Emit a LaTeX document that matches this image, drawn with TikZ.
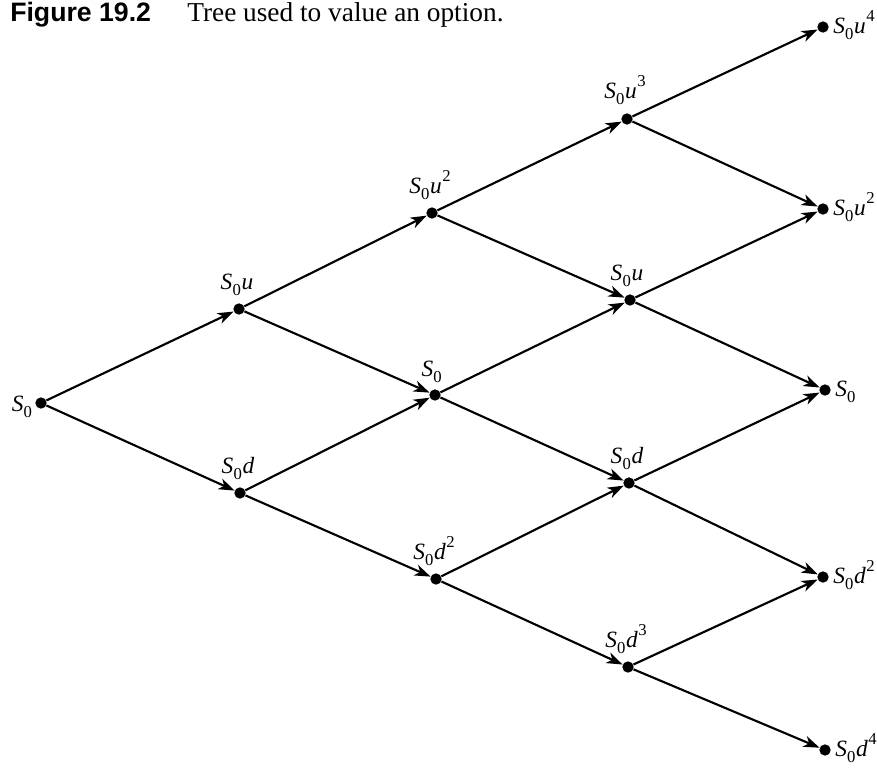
\documentclass[tikz,border=0pt]{standalone}
\usepackage{fontspec}
\setmainfont{Liberation Serif}
\newfontfamily\titlesf{Liberation Sans}
\usetikzlibrary{arrows.meta,calc}
\newcommand{\lbl}[2]{\textit{S}\kern0.01em\raisebox{-0.26em}{\fontsize{12.5}{12}\selectfont 0}\kern0.03em\textit{#1}\ifx\relax#2\relax\else\kern0.02em\raisebox{0.48em}{\fontsize{12.5}{12}\selectfont #2}\fi}
\begin{document}
\begin{tikzpicture}[x=0.75pt,y=-0.75pt,
  dot/.style={circle,fill=black,inner sep=0pt,minimum size=8.5pt},
  edge/.style={line width=1.6pt,-{Stealth[length=12pt,width=8.5pt,inset=3.5pt]}},
  lab/.style={inner sep=0pt,font=\fontsize{17.5}{20}\selectfont}]
\useasboundingbox (0,0) rectangle (877,772);
% title
\node[anchor=base west,inner sep=0pt,font=\titlesf\bfseries\fontsize{20}{24}\selectfont] (t1) at (10,21) {Figure 19.2};
\node[anchor=base west,inner sep=0pt,font=\fontsize{20.5}{24}\selectfont] (t2) at (187,21) {Tree used to value an option.};
% nodes
\node[dot] (r) at (41,403) {};
\node[dot] (a1) at (239,309) {};
\node[dot] (a2) at (240,493) {};
\node[dot] (b1) at (432,213) {};
\node[dot] (b2) at (435,395) {};
\node[dot] (b3) at (436,579) {};
\node[dot] (c1) at (627,119) {};
\node[dot] (c2) at (630,300) {};
\node[dot] (c3) at (629,483) {};
\node[dot] (c4) at (628,667) {};
\node[dot] (e1) at (823,27) {};
\node[dot] (e2) at (823,209) {};
\node[dot] (e3) at (825,390) {};
\node[dot] (e4) at (823,577) {};
\node[dot] (e5) at (825,750) {};
% labels
\node[lab,anchor=base east] (lr) at ($(r)+(-8,8)$) {\lbl{}{}};
\node[lab,anchor=base] (la1) at ($(a1)+(-2,-20)$) {\lbl{u}{}};
\node[lab,anchor=base] (la2) at ($(a2)+(-2,-20)$) {\lbl{d}{}};
\node[lab,anchor=base] (lb1) at ($(b1)+(-2,-20)$) {\lbl{u}{2}};
\node[lab,anchor=base] (lb2) at ($(b2)+(-3,-19)$) {\lbl{}{}};
\node[lab,anchor=base] (lb3) at ($(b3)+(-2,-20)$) {\lbl{d}{2}};
\node[lab,anchor=base] (lc1) at ($(c1)+(-2,-21)$) {\lbl{u}{3}};
\node[lab,anchor=base] (lc2) at ($(c2)+(-3,-20)$) {\lbl{u}{}};
\node[lab,anchor=base] (lc3) at ($(c3)+(-2,-20)$) {\lbl{d}{}};
\node[lab,anchor=base] (lc4) at ($(c4)+(-2,-20)$) {\lbl{d}{3}};
\node[lab,anchor=base west] (le1) at ($(e1)+(10,6)$) {\lbl{u}{4}};
\node[lab,anchor=base west] (le2) at ($(e2)+(10,6)$) {\lbl{u}{2}};
\node[lab,anchor=base west] (le3) at ($(e3)+(10,6)$) {\lbl{}{}};
\node[lab,anchor=base west] (le4) at ($(e4)+(10,6)$) {\lbl{d}{2}};
\node[lab,anchor=base west] (le5) at ($(e5)+(10,6)$) {\lbl{d}{4}};
% edges
\draw[edge] (r) -- (a1);
\draw[edge] (r) -- (a2);
\draw[edge] (a1) -- (b1);
\draw[edge] (a1) -- (b2);
\draw[edge] (a2) -- (b2);
\draw[edge] (a2) -- (b3);
\draw[edge] (b1) -- (c1);
\draw[edge] (b1) -- (c2);
\draw[edge] (b2) -- (c2);
\draw[edge] (b2) -- (c3);
\draw[edge] (b3) -- (c3);
\draw[edge] (b3) -- (c4);
\draw[edge] (c1) -- (e1);
\draw[edge] (c1) -- (e2);
\draw[edge] (c2) -- (e2);
\draw[edge] (c2) -- (e3);
\draw[edge] (c3) -- (e3);
\draw[edge] (c3) -- (e4);
\draw[edge] (c4) -- (e4);
\draw[edge] (c4) -- (e5);
\end{tikzpicture}
\end{document}
